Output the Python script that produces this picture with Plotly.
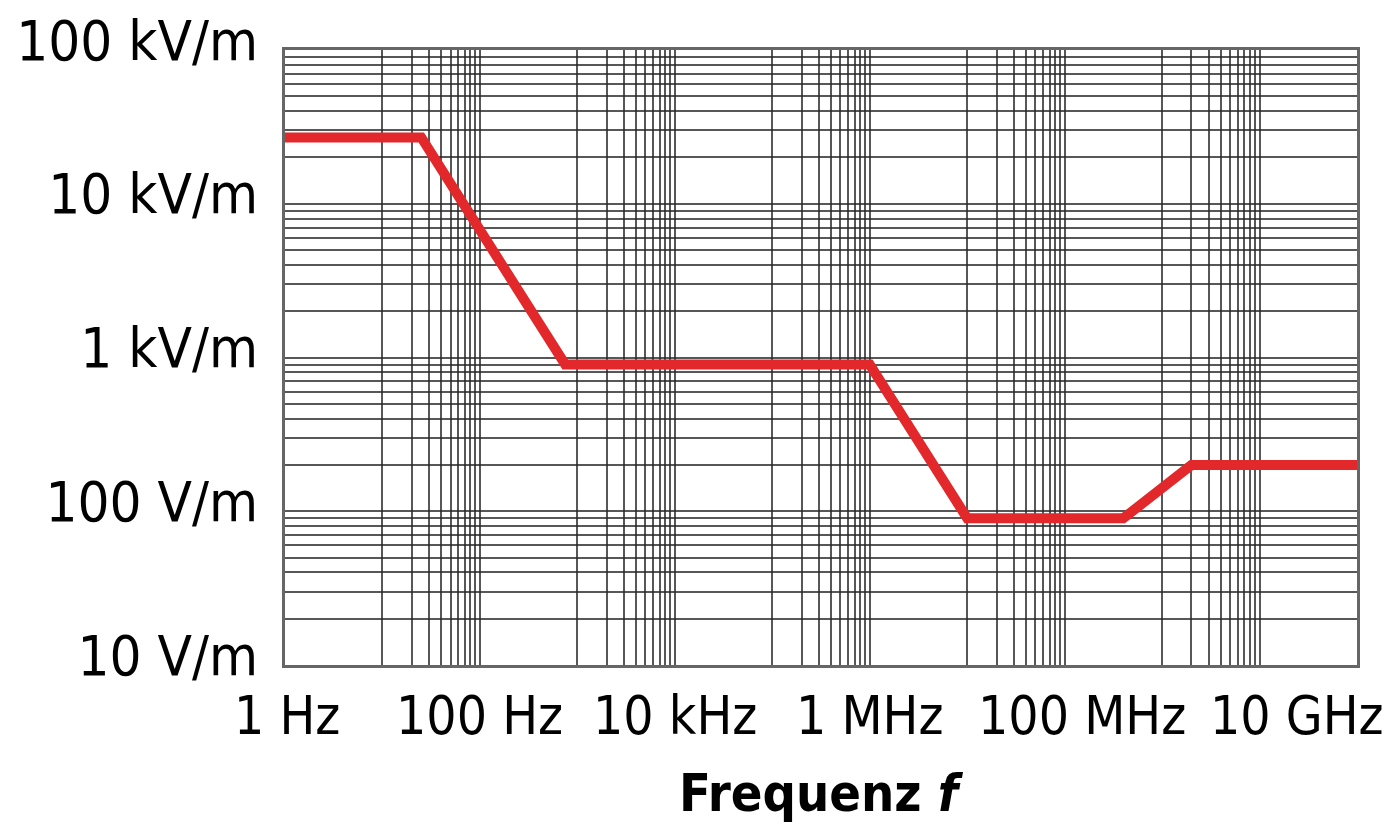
import math
import plotly.graph_objects as go

# Data
freq_hz = [1, 25, 750, 1e6, 1e7, 4e8, 2e9, 1e11]
field_v_per_m = [27000, 27000, 900, 900, 90, 90, 200, 200]

# Axis labels
x_label_vals = [1, 1e2, 1e4, 1e6, 1e8, 1e10]
x_label_text = ["1 Hz", "100 Hz", "10 kHz", "1 MHz", "100 MHz", "10 GHz"]
y_label_vals = [10, 100, 1e3, 1e4, 1e5]
y_label_text = ["10 V/m", "100 V/m", "1 kV/m", "10 kV/m", "100 kV/m"]

# horizontal nudges of the x labels (px), as placed in the reference
x_label_nudge = [2, 0, 0, 0, 17, 37]

# grid: x minor lines only in odd decades (10-100, 1k-10k, ...), y minor lines in every decade
x_grid = []
for d in range(0, 12):
    x_grid.append(10 ** d)
    if d % 2 == 1 and d < 11:
        x_grid += [m * 10 ** d for m in range(2, 10)]
x_grid = sorted(set(v for v in x_grid if v <= 1e11))

y_grid = []
for d in range(1, 6):
    y_grid.append(10 ** d)
    if d < 5:
        y_grid += [m * 10 ** d for m in range(2, 10)]
y_grid = sorted(set(y_grid))
y_text = [y_label_text[y_label_vals.index(v)] if v in y_label_vals else "" for v in y_grid]

FONT = "DejaVu Sans Condensed, Roboto, sans-serif"
GRID = "rgba(40,40,40,0.78)"

fig = go.Figure()
fig.add_trace(go.Scatter(
    x=freq_hz, y=field_v_per_m, mode="lines",
    line=dict(color="#E2282B", width=10), hoverinfo="skip", showlegend=False,
))

# page body has an 8px margin, so the figure is 8px smaller and margins shifted
fig.update_layout(
    width=1384, height=826,
    margin=dict(l=277, r=35, t=42, b=169),
    paper_bgcolor="white", plot_bgcolor="white",
    font=dict(family=FONT, color="black"),
)
fig.update_xaxes(
    type="log", range=[0, 11],
    tickmode="array", tickvals=x_grid, ticktext=[""] * len(x_grid),
    showgrid=True, gridcolor=GRID, gridwidth=1.8,
    showline=True, linecolor="#666", linewidth=2.5, mirror=True,
    ticks="", automargin=False,
    zeroline=False,
)
fig.update_yaxes(
    type="log", range=[1, 5],
    tickmode="array", tickvals=y_grid, ticktext=y_text,
    showgrid=True, gridcolor=GRID, gridwidth=1.8,
    showline=True, linecolor="#666", linewidth=2.5, mirror=True,
    ticks="", tickfont=dict(size=56, family=FONT),
    ticklabelstandoff=13, ticklabelshift=-10, automargin=False,
    ticklabeloverflow="allow",
    zeroline=False,
)

# x tick labels (annotations on a log axis take log10 of the value)
for v, t, dx in zip(x_label_vals, x_label_text, x_label_nudge):
    fig.add_annotation(
        x=math.log10(v), xref="x", y=0, yref="paper", text=t, showarrow=False,
        xanchor="center", yanchor="top", xshift=dx, yshift=-18,
        font=dict(size=53, family=FONT, color="black"),
    )

# axis title
fig.add_annotation(
    x=0.5, xref="paper", y=-0.2087, yref="paper",
    text="<b>Frequenz <i>f</i></b>", showarrow=False,
    xanchor="center", yanchor="middle",
    font=dict(size=52, family=FONT, color="black"),
)

fig.write_html("out.html")
